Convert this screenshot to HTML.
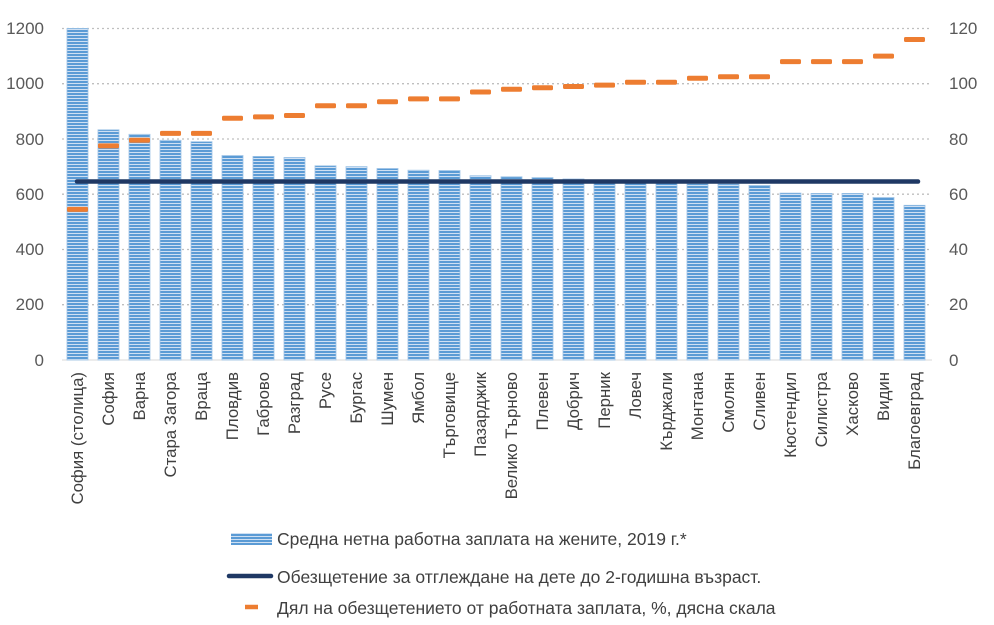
<!DOCTYPE html><html><head><meta charset="utf-8"><style>body{margin:0;background:#fff}svg{display:block;font-family:"Liberation Sans",sans-serif}</style></head><body>
<svg width="994" height="625" viewBox="0 0 994 625" xmlns="http://www.w3.org/2000/svg">
<defs><pattern id="p" width="4" height="3" patternUnits="userSpaceOnUse"><rect width="4" height="3" fill="#cfe0f3"/><rect width="4" height="2" fill="#5b9bd5"/></pattern></defs>
<g stroke="#bfbfbf" stroke-width="1.3" stroke-dasharray="2,3">
<line x1="62" x2="932" y1="28.5" y2="28.5"/><line x1="62" x2="932" y1="83.7" y2="83.7"/><line x1="62" x2="932" y1="139" y2="139"/><line x1="62" x2="932" y1="194.2" y2="194.2"/><line x1="62" x2="932" y1="249.5" y2="249.5"/><line x1="62" x2="932" y1="304.7" y2="304.7"/>
</g>
<line x1="62" x2="932" y1="360" y2="360" stroke="#d9d9d9" stroke-width="1"/>
<g font-size="17" fill="#595959" text-anchor="end">
<text x="44" y="34">1200</text><text x="44" y="89">1000</text><text x="44" y="145">800</text><text x="44" y="200">600</text><text x="44" y="255">400</text><text x="44" y="310">200</text><text x="44" y="366">0</text></g>
<g font-size="17" fill="#595959">
<text x="949" y="34">120</text><text x="949" y="89">100</text><text x="949" y="145">80</text><text x="949" y="200">60</text><text x="949" y="255">40</text><text x="949" y="310">20</text><text x="949" y="366">0</text></g>
<g fill="url(#p)" stroke="#9dc3e6" stroke-width="0.8">
<rect x="67" y="28.4" width="21" height="331.6"/>
<rect x="98" y="129.8" width="21" height="230.2"/>
<rect x="129" y="134.3" width="21" height="225.7"/>
<rect x="160" y="140.3" width="21" height="219.7"/>
<rect x="191" y="141.7" width="21" height="218.3"/>
<rect x="222" y="155.5" width="21" height="204.5"/>
<rect x="253" y="156.4" width="21" height="203.6"/>
<rect x="284" y="157.5" width="21" height="202.5"/>
<rect x="315" y="165.8" width="21" height="194.2"/>
<rect x="346" y="166.6" width="21" height="193.4"/>
<rect x="377" y="168.5" width="21" height="191.5"/>
<rect x="408" y="170.2" width="21" height="189.8"/>
<rect x="439" y="170.5" width="21" height="189.5"/>
<rect x="470" y="175.7" width="21" height="184.3"/>
<rect x="501" y="176.8" width="21" height="183.2"/>
<rect x="532" y="177.6" width="21" height="182.4"/>
<rect x="563" y="179" width="21" height="181"/>
<rect x="594" y="180.1" width="21" height="179.9"/>
<rect x="625" y="181" width="21" height="179"/>
<rect x="656" y="181.8" width="21" height="178.2"/>
<rect x="687" y="183.7" width="21" height="176.3"/>
<rect x="718" y="184" width="21" height="176"/>
<rect x="749" y="185.4" width="21" height="174.6"/>
<rect x="780" y="193.1" width="21" height="166.9"/>
<rect x="811" y="193.4" width="21" height="166.6"/>
<rect x="842" y="193.4" width="21" height="166.6"/>
<rect x="873" y="197.5" width="21" height="162.5"/>
<rect x="904" y="205.3" width="21" height="154.7"/>
</g>
<line x1="77" x2="918" y1="181.5" y2="181.5" stroke="#1f3864" stroke-width="4.5" stroke-linecap="round"/>
<g fill="#ed7d31">
<rect x="67" y="206.9" width="21" height="5" rx="1.5"/>
<rect x="98" y="143.4" width="21" height="5" rx="1.5"/>
<rect x="129" y="137.8" width="21" height="5" rx="1.5"/>
<rect x="160" y="130.9" width="21" height="5" rx="1.5"/>
<rect x="191" y="130.9" width="21" height="5" rx="1.5"/>
<rect x="222" y="115.7" width="21" height="5" rx="1.5"/>
<rect x="253" y="114.4" width="21" height="5" rx="1.5"/>
<rect x="284" y="113" width="21" height="5" rx="1.5"/>
<rect x="315" y="103.3" width="21" height="5" rx="1.5"/>
<rect x="346" y="103.3" width="21" height="5" rx="1.5"/>
<rect x="377" y="99.2" width="21" height="5" rx="1.5"/>
<rect x="408" y="96.4" width="21" height="5" rx="1.5"/>
<rect x="439" y="96.4" width="21" height="5" rx="1.5"/>
<rect x="470" y="89.5" width="21" height="5" rx="1.5"/>
<rect x="501" y="86.7" width="21" height="5" rx="1.5"/>
<rect x="532" y="85.3" width="21" height="5" rx="1.5"/>
<rect x="563" y="84" width="21" height="5" rx="1.5"/>
<rect x="594" y="82.6" width="21" height="5" rx="1.5"/>
<rect x="625" y="79.8" width="21" height="5" rx="1.5"/>
<rect x="656" y="79.8" width="21" height="5" rx="1.5"/>
<rect x="687" y="75.7" width="21" height="5" rx="1.5"/>
<rect x="718" y="74.3" width="21" height="5" rx="1.5"/>
<rect x="749" y="74.3" width="21" height="5" rx="1.5"/>
<rect x="780" y="59.1" width="21" height="5" rx="1.5"/>
<rect x="811" y="59.1" width="21" height="5" rx="1.5"/>
<rect x="842" y="59.1" width="21" height="5" rx="1.5"/>
<rect x="873" y="53.6" width="21" height="5" rx="1.5"/>
<rect x="904" y="37" width="21" height="5" rx="1.5"/>
</g>
<g font-size="16.8" fill="#404040" text-anchor="end">
<text transform="translate(83,372) rotate(-90)">София (столица)</text>
<text transform="translate(114,372) rotate(-90)">София</text>
<text transform="translate(145,372) rotate(-90)">Варна</text>
<text transform="translate(176,372) rotate(-90)">Стара Загора</text>
<text transform="translate(207,372) rotate(-90)">Враца</text>
<text transform="translate(238,372) rotate(-90)">Пловдив</text>
<text transform="translate(269,372) rotate(-90)">Габрово</text>
<text transform="translate(300,372) rotate(-90)">Разград</text>
<text transform="translate(331,372) rotate(-90)">Русе</text>
<text transform="translate(362,372) rotate(-90)">Бургас</text>
<text transform="translate(393,372) rotate(-90)">Шумен</text>
<text transform="translate(424,372) rotate(-90)">Ямбол</text>
<text transform="translate(455,372) rotate(-90)">Търговище</text>
<text transform="translate(486,372) rotate(-90)">Пазарджик</text>
<text transform="translate(517,372) rotate(-90)">Велико Търново</text>
<text transform="translate(548,372) rotate(-90)">Плевен</text>
<text transform="translate(579,372) rotate(-90)">Добрич</text>
<text transform="translate(610,372) rotate(-90)">Перник</text>
<text transform="translate(641,372) rotate(-90)">Ловеч</text>
<text transform="translate(672,372) rotate(-90)">Кърджали</text>
<text transform="translate(703,372) rotate(-90)">Монтана</text>
<text transform="translate(734,372) rotate(-90)">Смолян</text>
<text transform="translate(765,372) rotate(-90)">Сливен</text>
<text transform="translate(796,372) rotate(-90)">Кюстендил</text>
<text transform="translate(827,372) rotate(-90)">Силистра</text>
<text transform="translate(858,372) rotate(-90)">Хасково</text>
<text transform="translate(889,372) rotate(-90)">Видин</text>
<text transform="translate(920,372) rotate(-90)">Благоевград</text>
</g>
<rect x="231" y="533" width="41" height="12" fill="url(#p)"/>
<line x1="229" x2="271" y1="576" y2="576" stroke="#1f3864" stroke-width="4.5" stroke-linecap="round"/>
<line x1="245" x2="258" y1="607" y2="607" stroke="#ed7d31" stroke-width="4.5"/>
<g font-size="17.5" fill="#404040"><text x="277" y="545">Средна нетна работна заплата на жените, 2019 г.*</text><text x="277" y="583">Обезщетение за отглеждане на дете до 2-годишна възраст.</text><text x="277" y="614">Дял на обезщетението от работната заплата, %, дясна скала</text></g>
</svg></body></html>
